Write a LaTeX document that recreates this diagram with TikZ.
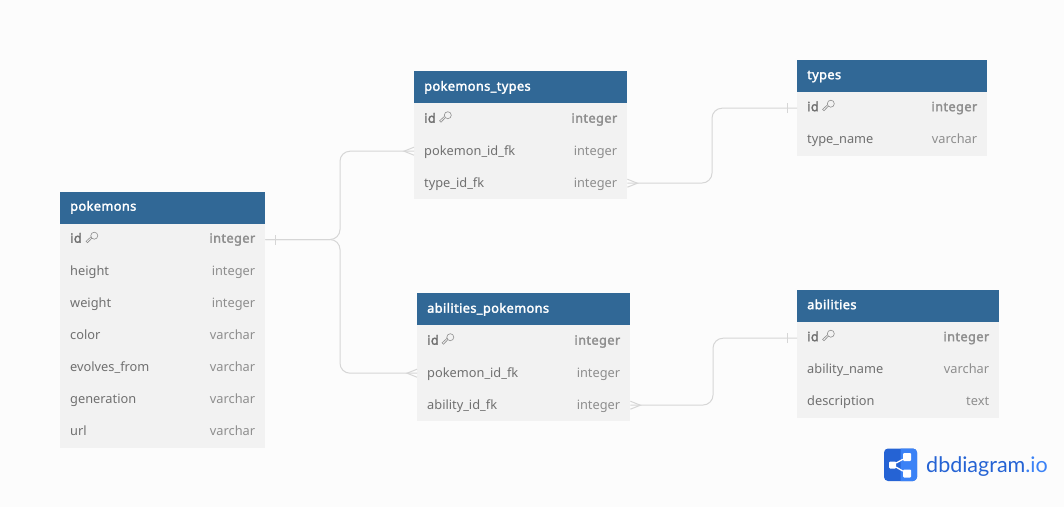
\documentclass[tikz,border=0pt]{standalone}
\usepackage{fontspec}
\setmainfont{Noto Sans}[BoldFont={Noto Sans},BoldFeatures={FakeBold=2.2,LetterSpace=3}]
\newfontfamily\logofont{Lato}
\usetikzlibrary{positioning}

\definecolor{pagegray}{HTML}{FCFCFC}
\definecolor{headblue}{HTML}{316896}
\definecolor{rowgray}{HTML}{F2F2F2}
\definecolor{namegray}{HTML}{707070}
\definecolor{typegray}{HTML}{8E8E8E}
\definecolor{linegray}{HTML}{D6D6D6}
\definecolor{logodark}{HTML}{2563D4}
\definecolor{logolight}{HTML}{3B82F6}

\newcommand{\rowtext}[2]{\textcolor{namegray}{#1}\hfill\textcolor{typegray}{#2}}
\newcommand{\pkrowtext}[2]{\textcolor{namegray}{\bfseries #1}\hfill\textcolor{typegray}{\bfseries #2}}

\begin{document}
\begin{tikzpicture}[
    x=1pt, y=-1pt,
    every node/.style={font=\fontsize{12.8}{15}\selectfont},
    headnode/.style={rectangle, fill=headblue, anchor=north west, inner xsep=10pt, inner ysep=0pt,
        minimum height=32pt, minimum width=#1pt, text width=#1pt-20pt, text height=9.5pt, text depth=3.5pt, text=white, font=\fontsize{12.8}{15}\selectfont\bfseries},
    rownode/.style={rectangle, fill=rowgray, anchor=north west, inner xsep=10pt, inner ysep=0pt,
        minimum height=32pt, minimum width=#1pt, text width=#1pt-20pt, text height=10pt, text depth=3pt},
    idrow/.style={text height=9.5pt, text depth=3.5pt},
    midrow/.style={text height=10pt, text depth=3pt},
    lowrow/.style={text height=10.5pt, text depth=2.5pt},
    relline/.style={draw=linegray, line width=1pt},
    bendline/.style={relline, rounded corners=10pt},
    keyicon/.pic={
        \draw [typegray, line width=0.6pt] (2.8,-2.8) circle (3.5pt);
        \draw [typegray, line width=0.6pt] (0.4,-0.4) -- (-4,4.2) -- (-5.4,2.8) -- (-0.6,-1.6);
    },
]

    \useasboundingbox [fill=pagegray] (0,0) rectangle (1064,507);

    % pokemons table
    \node [headnode=205] at (60,191.5) (pokemons_head){pokemons};
    \foreach \i/\col/\kind in {
    2/height/integer,
    3/weight/integer,
    4/color/varchar,
    5/evolves\_from/varchar,
    6/generation/varchar,
    7/url/varchar}
    {
        \node [rownode=205] at (60, 191.5+32*\i) (pokemons_\i){\rowtext{\col}{\kind}};
    }
    \node [rownode=205, idrow] at (60, 223.5) (pokemons_1){\pkrowtext{id}{integer}};

    % pokemons_types table
    \node [headnode=213, midrow] at (414,71) (pokemons_types_head){pokemons\_types};
    \node [rownode=213, midrow] at (414,103) (pokemons_types_1){\pkrowtext{id}{integer}};
    \foreach \i/\col/\kind in {
    2/pokemon\_id\_fk/integer,
    3/type\_id\_fk/integer}
    {
        \node [rownode=213, lowrow] at (414, 71+32*\i) (pokemons_types_\i){\rowtext{\col}{\kind}};
    }

    % types table
    \node [headnode=190] at (797,60) (types_head){types};
    \node [rownode=190, idrow] at (797,92) (types_1){\pkrowtext{id}{integer}};
    \node [rownode=190] at (797,124) (types_2){\rowtext{type\_name}{varchar}};

    % abilities_pokemons table
    \node [headnode=213, midrow] at (417,293) (abilities_pokemons_head){abilities\_pokemons};
    \node [rownode=213, midrow] at (417,325) (abilities_pokemons_1){\pkrowtext{id}{integer}};
    \foreach \i/\col/\kind in {
    2/pokemon\_id\_fk/integer,
    3/ability\_id\_fk/integer}
    {
        \node [rownode=213, lowrow] at (417, 293+32*\i) (abilities_pokemons_\i){\rowtext{\col}{\kind}};
    }

    % abilities table
    \node [headnode=202] at (797,290) (abilities_head){abilities};
    \node [rownode=202, idrow] at (797,322) (abilities_1){\pkrowtext{id}{integer}};
    \foreach \i/\col/\kind in {
    2/ability\_name/varchar,
    3/description/text}
    {
        \node [rownode=202] at (797, 290+32*\i) (abilities_\i){\rowtext{\col}{\kind}};
    }

    % key marks beside the id rows
    \foreach \x/\y in {91.5/238.5, 445/118, 828/106.5, 447.5/340, 828/336.5}
    {
        \pic at (\x,\y) {keyicon};
    }

    % connectors
    \coordinate (pokemons_bend) at (340,239.5);
    \draw [bendline] (pokemons_1.east) -- (pokemons_bend) |- (pokemons_types_2.west);
    \draw [bendline] (pokemons_1.east) -- (pokemons_bend) |- (abilities_pokemons_2.west);
    \coordinate (types_bend) at (712,183);
    \draw [bendline] (pokemons_types_3.east) -- (types_bend) |- (types_1.west);
    \coordinate (abilities_bend) at (713,405);
    \draw [bendline] (abilities_pokemons_3.east) -- (abilities_bend) |- (abilities_1.west);

    % one ends
    \foreach \name/\shiftX in {pokemons_1.east/10, types_1.west/-10, abilities_1.west/-10}
    {
        \draw [relline] ([shift={(\shiftX pt,-5pt)}]\name) -- ([shift={(\shiftX pt,5pt)}]\name);
    }

    % many ends
    \foreach \name/\shiftX in {pokemons_types_2.west/-10, abilities_pokemons_2.west/-10, pokemons_types_3.east/10, abilities_pokemons_3.east/10}
    {
        \draw [relline] ([yshift=-4pt]\name) -- ([xshift=\shiftX pt]\name) -- ([yshift=4pt]\name);
    }

    % logo
    \fill [logodark, rounded corners=4pt] (884,448.5) rectangle (917,481);
    \begin{scope}
        \clip (900.5,448) rectangle (918,482);
        \fill [logolight, rounded corners=4pt] (884,448.5) rectangle (917,481);
    \end{scope}
    \node [rectangle, fill=white, rounded corners=1pt, minimum size=7pt, inner sep=0pt] at (892.5,465) (logo_left){};
    \node [rectangle, fill=white, rounded corners=1pt, minimum size=8pt, inner sep=0pt] at (907,457) (logo_top){};
    \node [rectangle, fill=white, rounded corners=1pt, minimum size=8pt, inner sep=0pt] at (907,473.5) (logo_bottom){};
    \draw [white, line width=1.3pt] (logo_left) -- (logo_top);
    \draw [white, line width=1.3pt] (logo_left) -- (logo_bottom);
    \node [anchor=west, inner sep=0pt, text=logodark, font=\fontsize{21.5}{24}\selectfont\logofont] at (926,467) (logo_text){dbdiagram\textcolor{logolight}{.io}};

\end{tikzpicture}
\end{document}
